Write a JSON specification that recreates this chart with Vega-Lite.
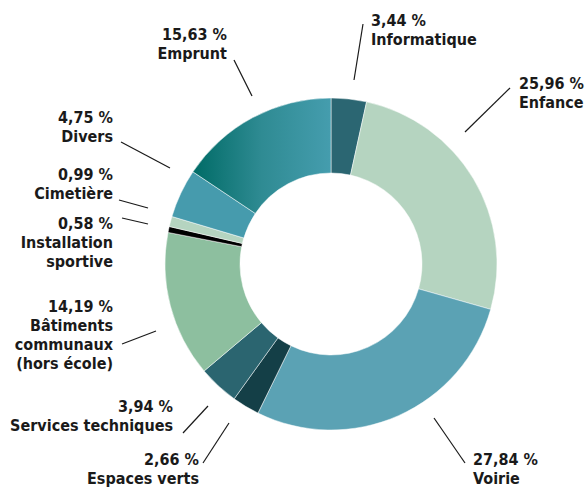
{
  "$schema": "https://vega.github.io/schema/vega-lite/v6.json",
  "width": 585,
  "height": 488,
  "padding": 0,
  "autosize": {"type": "fit", "contains": "padding"},
  "background": "white",
  "config": {"view": {"stroke": null}},
  "datasets": {
    "slices": [
      {"cat": "Informatique", "value": 3.44, "ord": 1},
      {"cat": "Enfance", "value": 25.96, "ord": 2},
      {"cat": "Voirie", "value": 27.84, "ord": 3},
      {"cat": "Espaces verts", "value": 2.66, "ord": 4},
      {"cat": "Services techniques", "value": 3.94, "ord": 5},
      {"cat": "Bâtiments communaux (hors école)", "value": 14.19, "ord": 6},
      {"cat": "Installation sportive", "value": 0.58, "ord": 7},
      {"cat": "Cimetière", "value": 0.99, "ord": 8},
      {"cat": "Divers", "value": 4.75, "ord": 9},
      {"cat": "Emprunt", "value": 15.63, "ord": 10}
    ],
    "labels": [
      {"cat": "Informatique", "label": "3,44 %\nInformatique", "x": 371, "y": 26},
      {"cat": "Enfance", "label": "25,96 %\nEnfance", "x": 519, "y": 89},
      {"cat": "Voirie", "label": "27,84 %\nVoirie", "x": 473, "y": 465},
      {"cat": "Espaces verts", "label": "2,66 %\nEspaces verts", "x": 199, "y": 465},
      {"cat": "Services techniques", "label": "3,94 %\nServices techniques", "x": 173, "y": 412},
      {"cat": "Bâtiments communaux (hors école)", "label": "14,19 %\nBâtiments\ncommunaux\n(hors école)", "x": 113, "y": 312},
      {"cat": "Installation sportive", "label": "0,58 %\nInstallation\nsportive", "x": 113, "y": 229},
      {"cat": "Cimetière", "label": "0,99 %\nCimetière", "x": 113, "y": 180},
      {"cat": "Divers", "label": "4,75 %\nDivers", "x": 113, "y": 123},
      {"cat": "Emprunt", "label": "15,63 %\nEmprunt", "x": 227, "y": 40}
    ],
    "leaders": [
      {"cat": "Informatique", "x1": 363, "y1": 24, "x2": 354, "y2": 80},
      {"cat": "Enfance", "x1": 510, "y1": 88, "x2": 465, "y2": 132},
      {"cat": "Voirie", "x1": 434, "y1": 418, "x2": 465, "y2": 463},
      {"cat": "Espaces verts", "x1": 203, "y1": 463, "x2": 229, "y2": 423},
      {"cat": "Services techniques", "x1": 183, "y1": 433, "x2": 208, "y2": 406},
      {"cat": "Bâtiments communaux (hors école)", "x1": 122, "y1": 344, "x2": 156, "y2": 331},
      {"cat": "Installation sportive", "x1": 122, "y1": 218, "x2": 148, "y2": 224},
      {"cat": "Cimetière", "x1": 119, "y1": 200, "x2": 148, "y2": 208},
      {"cat": "Divers", "x1": 121, "y1": 142, "x2": 170, "y2": 168},
      {"cat": "Emprunt", "x1": 234, "y1": 60, "x2": 252, "y2": 96}
    ]
  },
  "layer": [
    {
      "data": {"name": "slices"},
      "mark": {"type": "arc", "outerRadius": 166, "innerRadius": 91, "stroke": "white", "strokeWidth": 0.5},
      "encoding": {
        "x": {"datum": 331, "type": "quantitative", "scale": {"domain": [0, 585], "nice": false, "zero": false}, "axis": null},
        "y": {"datum": 264, "type": "quantitative", "scale": {"domain": [0, 488], "nice": false, "zero": false, "reverse": true}, "axis": null},
        "theta": {"field": "value", "type": "quantitative", "stack": true},
        "order": {"field": "ord", "type": "quantitative"},
        "color": {
          "condition": {
            "test": "datum.cat === 'Emprunt'",
            "value": {"gradient": "linear", "x1": 0, "y1": 0, "x2": 1, "y2": 0, "stops": [
              {"offset": 0, "color": "#006b66"},
              {"offset": 0.5, "color": "#2f8b93"},
              {"offset": 1, "color": "#459dae"}
            ]}
          },
          "field": "cat",
          "type": "nominal",
          "legend": null,
          "scale": {
            "domain": ["Informatique", "Enfance", "Voirie", "Espaces verts", "Services techniques", "Bâtiments communaux (hors école)", "Installation sportive", "Cimetière", "Divers", "Emprunt"],
            "range": ["#2b6672", "#b5d4c0", "#5ba2b4", "#143f47", "#2b6570", "#8dbf9f", "#000000", "#b5d4c0", "#469bad", "#3f98a8"]
          }
        }
      }
    },
    {
      "data": {"name": "leaders"},
      "mark": {"type": "rule", "color": "#1a1a1a", "strokeWidth": 1.2},
      "encoding": {
        "x": {"field": "x1", "type": "quantitative"},
        "y": {"field": "y1", "type": "quantitative"},
        "x2": {"field": "x2"},
        "y2": {"field": "y2"}
      }
    },
    {
      "data": {"name": "labels"},
      "transform": [{"filter": {"field": "cat", "oneOf": ["Informatique", "Enfance", "Voirie"]}}],
      "mark": {"type": "text", "align": "left", "baseline": "alphabetic", "lineBreak": "\n", "lineHeight": 19, "font": "DejaVu Sans Condensed, Liberation Sans, sans-serif", "fontSize": 16, "fontWeight": "bold", "color": "#1a1a1a"},
      "encoding": {
        "x": {"field": "x", "type": "quantitative"},
        "y": {"field": "y", "type": "quantitative"},
        "text": {"field": "label"}
      }
    },
    {
      "data": {"name": "labels"},
      "transform": [{"filter": {"not": {"field": "cat", "oneOf": ["Informatique", "Enfance", "Voirie"]}}}],
      "mark": {"type": "text", "align": "right", "baseline": "alphabetic", "lineBreak": "\n", "lineHeight": 19, "font": "DejaVu Sans Condensed, Liberation Sans, sans-serif", "fontSize": 16, "fontWeight": "bold", "color": "#1a1a1a"},
      "encoding": {
        "x": {"field": "x", "type": "quantitative"},
        "y": {"field": "y", "type": "quantitative"},
        "text": {"field": "label"}
      }
    }
  ]
}
